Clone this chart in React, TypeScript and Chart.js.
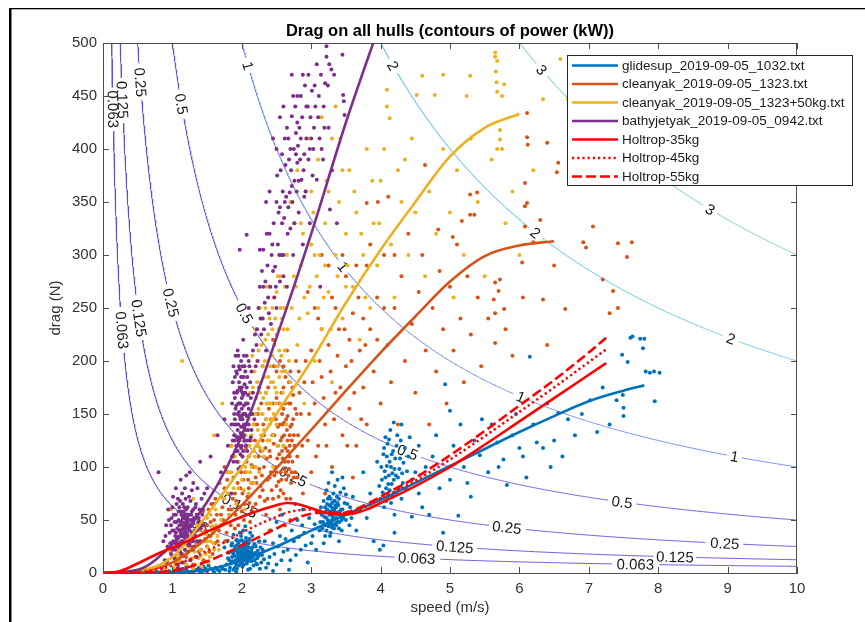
import React, { useEffect, useRef } from 'react';
import { Chart, registerables } from 'chart.js';

Chart.register(...registerables);

// ---------------- data ----------------
const POWER_LEVELS = [0.063, 0.125, 0.25, 0.5, 1, 2, 3];
const LEVEL_COLORS = ['#5a4ed8', '#5a4ed8', '#5a50da', '#5c58dc', '#6a84ec', '#66c2ec', '#84daae'];
const LABEL_SPEEDS = [
  [0.144, 0.275, 1.37, 4.52, 7.67],
  [0.28, 0.52, 1.97, 5.07, 8.24],
  [0.54, 0.98, 2.74, 5.82, 8.96],
  [1.13, 2.04, 4.39, 7.48],
  [2.09, 3.46, 6.02, 9.1],
  [4.18, 6.23, 9.05],
  [6.32, 8.75],
];

const X_TICKS_MAX = 10;
const Y_TICKS_MAX = 500;

const glideSpeed = [0, 0.5, 1, 1.5, 2, 2.5, 3, 3.5, 4, 4.5, 5, 5.5, 6, 6.5, 7, 7.5, 7.8];
const glideDrag = [0, 0, 1, 3, 12, 25, 40, 55, 69, 85, 101, 117, 133, 148, 162, 172, 177];

const cleanSpeed = [0, 0.5, 1, 1.5, 2, 2.5, 3, 3.5, 4, 4.5, 5, 5.5, 6, 6.5];
const cleanDrag = [0, 1, 10, 33, 64, 99, 135, 172, 208, 242, 275, 299, 309, 313];

const heavySpeed = [0, 0.5, 1, 1.5, 2, 2.5, 3, 3.5, 4, 4.5, 5, 5.5, 6];
const heavyDrag = [0, 2, 15, 55, 100, 150, 200, 255, 305, 350, 393, 420, 433];

const bathySpeed = [0, 0.5, 1, 1.5, 2, 2.5, 3, 3.5, 4];
const bathyDrag = [0, 3, 27, 67, 130, 222, 320, 425, 520];

const holt35Speed = [0, 0.25, 0.5, 0.75, 1, 1.25, 1.5, 1.75, 2, 2.25, 2.5, 2.65, 2.8, 3, 3.2, 3.4, 3.6, 3.8, 4, 4.5, 5, 5.5, 6, 6.5, 7, 7.25];
const holt35Drag = [0, 2, 9, 17, 24, 31, 39, 46, 53, 59, 64, 66, 65, 61, 57, 55, 56, 60, 66, 82, 100, 121, 143, 165, 187, 198];

const holt45Speed = [0, 0.5, 0.75, 1, 1.25, 1.5, 1.75, 2, 2.25, 2.5, 2.65, 2.8, 3, 3.2, 3.4, 3.6, 3.8, 4, 4.5, 5, 5.5, 6, 6.5, 7, 7.25];
const holt45Drag = [0, 1, 3, 7, 13, 21, 29, 38, 46, 53, 57, 59, 60, 58, 56, 58, 63, 70, 87, 107, 129, 152, 175, 199, 211];

const holt55Speed = [0, 0.5, 1, 1.25, 1.5, 1.75, 2, 2.25, 2.5, 2.65, 2.8, 3, 3.2, 3.4, 3.6, 3.8, 4, 4.5, 5, 5.5, 6, 6.5, 7, 7.25];
const holt55Drag = [0, 0.5, 2, 6, 11, 18, 26, 34, 42, 47, 52, 56, 57, 56, 59, 65, 72, 90, 111, 134, 158, 182, 208, 222];

const glidePoints = [
  [0.85,1],[0.95,2],[1.0,0.5],[1.05,3],[1.1,1],[1.15,4],[1.2,2],[1.25,0.5],[1.3,5],[1.35,3],[1.4,1],[1.45,6],[1.5,2],[1.55,4],[1.6,1],[1.3,1],[1.2,6],[1.42,8],[1.65,3],[1.7,6],
  [1.02,2],[1.12,3],[1.22,1],[1.32,3],[1.38,5],[1.48,4],[1.52,7],[1.58,3],[1.62,5],[1.68,2],[1.72,4],[1.76,3],[1.82,2],[1.88,3],[1.92,1],[0.92,0.5],[0.78,1],[0.7,0.5],[1.18,0.5],[1.44,2],
  [1.78,8],[1.8,14],[1.83,5],[1.85,20],[1.87,11],[1.9,16],[1.9,25],[1.92,8],[1.94,19],[1.95,13],[1.96,30],[1.97,22],[1.98,10],[1.99,17],[2.0,14],[2.0,20],[2.0,26],[2.01,6],[2.02,18],[2.03,12],[2.04,24],[2.05,16],[2.06,33],[2.07,9],[2.08,21],[2.1,14],[2.1,28],[2.12,18],[2.14,11],[2.15,24],[2.17,7],[2.2,19],[2.22,14],[2.25,30],[2.28,10],[2.3,22],[1.88,36],[2.02,40],[2.12,38],[1.75,24],
  [1.93,4],[1.97,15],[2.03,29],[2.09,3],[1.86,28],[2.18,27],[1.99,35],
  [1.81,19],[1.84,9],[1.86,15],[1.89,21],[1.91,12],[1.93,26],[1.95,17],[1.96,7],[1.98,23],[1.99,13],[2.0,9],[2.0,31],[2.01,16],[2.02,22],[2.03,8],[2.04,19],[2.05,27],[2.06,13],[2.07,17],[2.08,25],[2.09,11],[2.1,20],[2.11,32],[2.13,15],[2.14,23],[2.16,18],[2.18,12],[2.19,26],[2.21,9],[2.23,21],[2.24,16],[2.27,24],[2.29,17],[2.32,13],[1.92,31],[1.97,38],[2.05,44],[2.15,35],[1.79,30],[2.26,4],
  [1.82,12],[1.85,26],[1.88,18],[1.9,10],[1.92,22],[1.94,14],[1.96,24],[1.98,19],[2.0,11],[2.0,17],[2.01,23],[2.02,13],[2.03,20],[2.04,15],[2.05,22],[2.06,19],[2.07,12],[2.08,16],[2.1,24],[2.11,19],[2.12,13],[2.14,20],[2.16,15],[2.2,25],[2.25,18],[1.95,28],[2.08,30],[1.9,5],[2.12,4],[2.22,8],
  [2.35,5],[2.4,15],[2.45,28],[2.5,8],[2.55,35],[2.6,20],[2.62,45],[2.7,12],[2.75,30],[2.8,50],[2.85,22],[2.9,38],[2.95,10],[3.0,28],[3.05,46],[2.5,48],[2.68,3],[2.88,60],
  [2.33,30],[2.38,9],[2.42,40],[2.47,18],[2.52,25],[2.57,12],[2.63,32],[2.66,22],[2.72,40],[2.78,17],[2.82,34],[2.87,45],[2.92,26],[2.97,52],[3.02,35],[3.07,22],[3.08,58],[2.58,55],[2.77,65],[2.45,2],
  [3.12,40],[3.15,55],[3.17,48],[3.2,62],[3.2,35],[3.22,52],[3.24,70],[3.25,44],[3.27,58],[3.28,38],[3.3,66],[3.3,50],[3.32,75],[3.33,42],[3.35,56],[3.36,62],[3.38,48],[3.4,70],[3.42,54],[3.44,40],[3.45,60],[3.47,80],[3.5,50],[3.52,65],[3.55,45],[3.25,85],[3.38,88],[3.18,28],[3.4,30],[3.6,72],
  [3.21,57],[3.29,47],[3.34,68],[3.26,64],[3.31,53],[3.36,45],
  [3.13,48],[3.14,62],[3.16,42],[3.18,68],[3.19,53],[3.21,45],[3.23,60],[3.24,50],[3.26,72],[3.27,46],[3.28,63],[3.29,55],[3.3,43],[3.31,61],[3.32,51],[3.33,68],[3.34,58],[3.35,47],[3.37,72],[3.38,57],[3.39,64],[3.41,48],[3.42,76],[3.43,60],[3.46,52],[3.48,66],[3.5,74],[3.53,57],[3.56,62],[3.58,52],[3.22,78],[3.34,82],[3.27,35],[3.45,90],[3.3,95],
  [3.2,45],[3.23,65],[3.26,55],[3.28,70],[3.31,45],[3.33,60],[3.36,52],[3.38,66],[3.41,58],[3.44,50],[3.3,58],[3.25,48],[3.35,64],[3.4,42],[3.22,40],
  [3.65,40],[3.7,60],[3.75,95],[3.8,52],[3.85,75],[3.9,30],[3.95,105],
  [4.0,70],[4.02,88],[4.04,112],[4.05,62],[4.06,96],[4.08,80],[4.1,122],[4.1,72],[4.12,92],[4.13,105],[4.15,66],[4.16,84],[4.18,115],[4.2,98],[4.22,76],[4.24,130],[4.25,90],[4.28,108],[4.3,70],[4.32,85],[4.35,118],[4.14,135],[4.2,55],[4.04,26],[4.2,38],[3.99,22],[4.09,101],[4.17,94],
  [3.98,82],[4.01,100],[4.03,76],[4.05,118],[4.07,90],[4.08,68],[4.09,110],[4.11,84],[4.12,126],[4.13,78],[4.15,100],[4.16,112],[4.17,72],[4.19,88],[4.21,108],[4.22,92],[4.23,120],[4.26,80],[4.27,98],[4.29,125],[4.31,94],[4.33,104],[4.36,80],[4.38,96],[4.4,110],[4.42,128],[4.45,88],[4.19,142],[4.07,128],[4.3,140],
  [4.45,53],[4.5,95],[4.55,75],[4.7,55],[4.75,110],[4.9,38],[4.93,178],[5.0,153],[5.0,88],[5.12,54],[5.2,100],[5.3,72],[5.43,111],[5.46,145],[5.55,95],[5.68,123],[5.77,107],[5.82,83],[5.9,130],[6.05,110],[6.1,90],[6.15,204],[6.25,123],[6.34,118],[6.45,100],[6.56,151],[6.7,145],[6.8,130],[7.02,163],[7.12,133],
  [4.55,120],[4.6,62],[4.65,100],[4.8,130],[4.85,80],[5.05,120],[5.15,140],[5.25,85],[5.35,125],[5.6,140],[5.7,100],[5.95,150],[6.0,118],[6.2,140],[6.4,160],[6.5,125],[6.62,110],[6.9,150],[7.2,175],[7.3,140],
  [7.4,163],[7.48,206],[7.49,168],[7.5,156],[7.5,148],[7.56,199],[7.6,222],[7.63,223],[7.74,221],[7.8,221],[7.78,212],[7.82,190],[7.88,189],[7.94,190],[8.02,189],[7.95,162],
];

const cleanPoints = [
  [1.05,10],[1.1,22],[1.15,35],[1.2,15],[1.22,45],[1.25,28],[1.3,8],[1.32,38],[1.35,55],[1.38,20],[1.4,30],[1.42,48],[1.45,12],[1.48,40],[1.5,25],[1.52,60],[1.55,35],[1.58,18],[1.6,50],[1.62,70],
  [1.28,25],[1.34,15],[1.37,42],[1.41,22],[1.44,58],[1.47,32],[1.5,45],[1.53,20],[1.56,65],[1.59,38],[1.61,28],[1.64,55],[1.67,40],[1.7,72],[1.73,50],[1.76,30],[1.79,88],[1.81,60],[1.84,45],[1.87,70],[1.89,110],[1.91,55],[1.94,85],[1.97,62],[1.99,95],[2.01,75],[2.03,50],[2.06,118],[2.09,88],[2.11,66],
  [1.65,30],[1.68,85],[1.7,45],[1.72,62],[1.75,100],[1.78,38],[1.8,75],[1.82,55],[1.85,120],[1.88,90],[1.9,42],[1.92,68],[1.95,105],[1.98,80],[2.0,58],[2.02,130],[2.05,95],[2.08,72],[2.1,110],[2.12,48],
  [1.7,55],[1.75,80],[1.8,95],[1.85,60],[1.9,75],[1.95,45],[1.55,48],[1.45,30],[1.35,28],[1.62,42],
  [2.15,85],[2.18,140],[2.2,65],[2.22,120],[2.25,98],[2.28,160],[2.3,78],[2.32,130],[2.35,55],[2.36,108],[2.38,175],[2.4,90],[2.42,145],[2.45,70],[2.46,122],[2.48,100],[2.5,165],[2.5,82],[2.52,138],[2.54,112],[2.55,60],[2.56,95],[2.58,150],[2.6,120],[2.6,75],[2.62,105],[2.63,185],[2.64,88],[2.65,135],[2.66,115],[2.68,98],[2.7,160],[2.7,70],[2.72,125],[2.74,145],[2.75,90],[2.78,200],[2.8,110],[2.55,200],[2.45,220],[2.3,195],[2.62,45],[2.7,50],[2.4,40],
  [2.58,128],[2.61,142],[2.67,92],[2.53,86],[2.59,108],[2.69,130],[2.57,170],
  [2.14,102],[2.16,62],[2.19,125],[2.21,85],[2.23,150],[2.26,72],[2.27,115],[2.29,92],[2.31,140],[2.33,68],[2.34,118],[2.37,88],[2.39,155],[2.41,110],[2.43,78],[2.44,130],[2.47,92],[2.49,145],[2.51,108],[2.53,72],[2.54,160],[2.56,125],[2.57,88],[2.59,140],[2.61,98],[2.62,160],[2.63,118],[2.64,70],[2.66,148],[2.67,105],[2.68,180],[2.69,120],[2.71,85],[2.72,140],[2.73,105],[2.74,168],[2.76,120],[2.77,95],[2.79,150],[2.81,130],[2.5,190],[2.65,210],[2.6,175],[2.35,170],[2.46,195],
  [2.02,88],[2.04,65],[2.07,105],[2.1,80],[2.13,125],[2.15,58],[2.17,100],[2.2,90],[2.22,140],[2.24,110],[2.27,82],[2.3,125],[2.32,100],[2.35,145],[2.37,70],[2.4,115],[2.42,95],[2.45,160],[2.47,130],[2.5,95],[2.52,120],[2.55,140],[2.56,78],[2.58,115],[2.6,155],[2.61,130],[2.63,95],[2.64,145],[2.66,125],[2.68,160],[2.69,110],[2.7,138],[2.72,95],[2.73,175],[2.75,130],[2.77,155],[2.8,90],[2.82,190],[2.7,190],[2.6,195],
  [2.85,150],[2.88,75],[2.9,180],[2.95,125],[3.0,95],[3.0,210],[3.05,160],[3.1,120],[3.1,240],[3.15,185],[3.2,140],[3.25,215],[3.3,100],[3.3,260],[3.35,170],[3.4,230],[3.45,130],[3.5,195],[3.5,280],[3.55,155],[3.6,245],[3.65,120],[3.7,210],[3.75,175],[3.8,290],[3.8,140],[3.85,230],[3.9,190],[3.95,260],[4.0,160],[3.2,75],[3.6,90],[2.95,265],[3.15,300],
  [2.83,170],[2.87,120],[2.92,200],[2.97,150],[3.02,180],[3.07,110],[3.12,200],[3.18,165],[3.22,120],[3.28,190],[3.33,145],[3.38,205],[3.42,175],[3.48,230],[3.52,120],[3.58,200],[3.62,170],[3.68,260],[3.72,145],[3.78,215],
  [3.05,250],[3.15,230],[3.25,290],[3.35,250],[3.45,300],[3.55,220],[3.65,290],[3.75,240],[3.85,310],[3.95,220],[4.05,250],[4.2,300],
  [4.05,300],[4.1,215],[4.15,180],[4.2,250],[4.25,140],[4.3,280],[4.35,200],[4.4,320],[4.45,235],[4.5,170],[4.55,265],[4.6,300],[4.65,210],[4.7,140],[4.75,250],[4.8,190],[4.85,285],[4.9,230],[4.95,160],[5.0,270],[5.05,210],[5.1,310],[5.15,240],[5.2,180],[5.25,280],[5.29,338],[5.35,338],[5.3,225],[5.4,260],[5.45,195],
  [5.55,240],[5.63,258],[5.65,274],[5.65,245],[5.65,217],[5.7,266],[5.72,277],[5.78,249],[5.8,230],[5.9,205],[6.04,293],[6.05,260],[6.08,327],[6.08,346],[6.11,349],[6.2,312],[6.3,333],[6.34,258],[6.4,215],[6.5,290],[6.66,249],[6.92,312],[6.96,307],[7.06,327],[7.2,277],[7.3,245],[7.35,266],[7.42,250],[7.42,311],[7.55,298],[7.62,312],
  [6.08,368],[6.11,411],[6.12,404],[6.4,406],[6.54,378],[6.56,387],[6.11,434],
  [3.8,349],[3.96,350],[4.11,355],[4.64,385],[5.04,317],[4.83,324],[5.17,332],[5.29,357],[5.39,359],
];

const heavyPoints = [
  [0.9,3],[0.95,8],[1.0,15],[1.02,5],[1.05,22],[1.08,10],[1.1,30],[1.12,2],[1.15,18],[1.18,40],[1.2,8],[1.22,25],[1.25,12],[1.28,35],[1.3,4],[1.32,20],[1.35,45],[1.38,14],[1.4,28],[1.42,6],[1.45,38],[1.48,18],[1.5,52],[1.52,10],[1.55,30],[1.58,44],[1.6,22],[1.62,60],[1.65,35],[1.7,50],[0.98,60],[1.3,70],[1.14,200],
  [0.93,12],[0.97,20],[1.01,28],[1.04,8],[1.06,35],[1.09,16],[1.11,24],[1.13,42],[1.16,10],[1.19,30],[1.21,18],[1.23,48],[1.26,22],[1.29,14],[1.31,32],[1.33,8],[1.36,26],[1.39,40],[1.41,16],[1.44,30],[1.46,10],[1.49,36],[1.51,24],[1.54,15],[1.57,40],[1.59,28],[1.63,45],[1.67,22],
  [1.05,15],[1.1,12],[1.15,28],[1.2,20],[1.25,35],[1.35,30],[1.4,22],[1.45,45],[1.5,30],[1.55,55],
  [1.75,70],[1.8,95],[1.82,55],[1.85,120],[1.88,80],[1.9,140],[1.92,65],[1.95,105],[1.98,125],[2.0,88],[2.02,150],[2.04,60],[2.06,115],[2.08,135],[2.1,75],[1.72,160],[1.6,130],
  [1.95,80],[1.9,110],[1.85,95],[1.8,75],
  [2.12,170],[2.14,100],[2.15,205],[2.17,140],[2.18,85],[2.2,230],[2.21,120],[2.22,180],[2.24,155],[2.25,95],[2.26,250],[2.28,130],[2.3,195],[2.31,165],[2.32,110],[2.34,220],[2.35,145],[2.36,270],[2.38,185],[2.4,125],[2.4,240],[2.42,160],[2.44,205],[2.45,100],[2.46,260],[2.48,175],[2.5,225],[2.5,140],[2.52,195],[2.55,280],[2.56,160],[2.58,240],[2.6,120],[2.62,210],
  [2.01,110],[2.03,78],[2.05,130],[2.07,95],[2.09,160],[2.11,120],[2.13,85],[2.16,150],[2.18,190],[2.19,110],[2.21,165],[2.23,135],[2.24,210],[2.26,118],[2.27,180],[2.29,150],[2.3,240],[2.32,135],[2.33,200],[2.35,170],[2.37,125],[2.38,225],[2.39,160],[2.41,195],[2.43,145],[2.44,250],[2.45,180],[2.47,215],[2.49,160],[2.5,265],[2.51,120],[2.53,230],[2.54,185],[2.57,205],[2.59,170],[2.61,250],[2.63,190],[2.64,140],[2.66,230],[2.68,200],
  [2.05,100],[2.08,120],[2.1,145],[2.12,95],[2.14,130],[2.16,175],[2.18,115],[2.2,150],[2.22,200],[2.24,120],[2.26,170],[2.28,215],[2.3,150],[2.32,185],[2.34,250],[2.36,160],[2.38,200],[2.4,270],[2.42,180],[2.44,230],[2.46,150],[2.48,240],[2.5,195],[2.52,280],[2.54,210],[2.56,250],[2.58,190],[2.6,230],[2.62,270],[2.2,100],[2.3,115],[2.4,140],[2.45,130],[2.5,170],
  [2.65,300],[2.7,180],[2.72,250],[2.75,330],[2.8,215],[2.85,290],[2.9,160],[2.92,360],[2.95,245],[3.0,310],[3.05,200],[3.08,280],[3.1,390],[3.15,230],[3.2,330],[3.25,265],[3.3,410],[3.3,180],[3.35,300],[3.4,350],[3.45,240],[3.5,320],[3.55,380],[3.6,270],[3.65,340],[3.7,220],[3.75,300],[3.8,400],[3.85,250],[3.9,330],[3.95,290],[4.0,370],[4.09,440],[4.09,456],[4.13,429],[4.15,310],[4.2,260],[4.3,350],[4.35,390],[4.4,300],[4.52,451],[4.5,340],[4.6,469],[4.64,280],[4.78,451],[4.9,470],
  [2.78,270],[2.83,240],[2.88,320],[2.98,270],[3.03,340],[3.12,300],[3.18,260],[3.22,370],[3.28,230],[3.38,280],[3.42,410],[3.52,290],[3.62,360],[3.72,320],[3.78,260],[3.88,370],[3.98,330],[4.05,400],[4.25,380],[4.45,410],
  [2.7,350],[2.75,280],[2.8,380],[2.85,330],[2.9,260],[2.95,410],[3.0,360],[3.05,300],[3.1,250],[3.15,430],[3.2,290],[3.25,360],[3.35,440],[3.45,380],[3.5,270],
  [4.7,360],[4.8,320],[4.9,400],[5.0,340],[5.05,260],[5.1,380],[5.2,300],[5.24,450],[5.29,469],[5.3,410],[5.4,350],[5.5,280],[5.6,390],[5.65,491],[5.65,487],[5.66,473],[5.67,463],[5.68,483],[5.68,400],[5.68,454],[5.72,409],[5.72,418],[5.75,450],[5.75,400],[5.78,461],[5.8,330],[5.9,360],[6.0,300],[6.34,447],[6.59,485],[6.7,447],[6.2,380],
];

const bathyPoints = [
  [0.3,0],[0.5,1],[0.7,0],[0.9,1],[1.5,2],
  [0.85,5],[0.88,20],[0.9,35],[0.92,10],[0.95,50],[0.97,28],[1.0,15],[1.0,62],[1.02,40],[1.04,22],[1.05,55],[1.06,32],[1.08,8],[1.08,70],[1.1,45],[1.1,25],[1.12,38],[1.12,58],[1.13,18],[1.14,48],[1.15,30],[1.15,65],[1.16,42],[1.17,52],[1.18,22],[1.18,80],[1.2,36],[1.2,60],[1.21,45],[1.22,28],[1.23,50],[1.24,72],[1.25,40],[1.26,12],[1.27,55],[1.28,33],[1.3,47],[1.3,85],[1.32,25],[1.33,62],[1.35,40],[1.38,52],[1.4,30],[1.42,70],[1.45,45],[1.1,2],[1.2,4],[1.3,1],[1.4,3],[0.8,95],[1.25,95],
  [1.11,35],[1.14,41],[1.17,37],[1.19,47],[1.13,55],[1.16,27],[1.21,53],[1.09,50],[1.24,33],[1.07,42],
  [0.87,30],[0.89,12],[0.91,45],[0.93,25],[0.94,60],[0.96,38],[0.98,18],[0.99,52],[1.01,30],[1.01,72],[1.03,48],[1.03,14],[1.05,38],[1.06,65],[1.07,25],[1.09,58],[1.09,34],[1.11,20],[1.11,68],[1.12,48],[1.13,30],[1.14,75],[1.15,52],[1.16,36],[1.16,16],[1.17,62],[1.18,44],[1.19,28],[1.19,70],[1.2,50],[1.21,38],[1.22,62],[1.23,42],[1.23,20],[1.24,55],[1.25,30],[1.26,68],[1.27,44],[1.28,58],[1.29,22],[1.31,52],[1.32,40],[1.34,65],[1.36,30],[1.37,48],[1.39,60],[1.41,42],[1.43,55],[1.12,88],[1.2,92],[1.05,80],[1.28,78],[1.15,10],[1.08,5],[1.35,15],[1.0,40],
  [1.0,22],[1.02,55],[1.04,35],[1.06,48],[1.08,28],[1.1,62],[1.12,25],[1.14,35],[1.16,58],[1.18,33],[1.2,42],[1.22,48],[1.24,26],[1.26,45],[1.28,38],[1.3,60],[1.33,35],[1.35,55],[1.38,42],[1.18,55],[1.1,40],[1.15,45],[1.22,35],[1.27,50],[1.05,28],[0.98,45],[1.3,30],[1.44,60],[1.46,75],[1.36,80],
  [1.5,80],[1.55,110],[1.6,65],[1.65,130],[1.7,95],[1.75,145],[1.8,120],[1.85,75],[1.4,105],
  [1.86,110],[1.88,140],[1.89,170],[1.9,125],[1.91,155],[1.92,190],[1.93,105],[1.94,135],[1.95,160],[1.96,180],[1.97,120],[1.98,145],[1.99,200],[2.0,130],[2.0,165],[2.01,110],[2.02,150],[2.03,185],[2.04,125],[2.05,170],[2.06,140],[2.07,205],[2.08,115],[2.1,155],[2.12,180],[2.14,135],[2.16,210],[1.95,98],
  [1.97,148],[2.01,138],[1.99,172],[2.03,158],[1.93,128],
  [1.87,125],[1.89,150],[1.9,185],[1.91,115],[1.92,140],[1.93,170],[1.94,150],[1.95,125],[1.96,195],[1.97,160],[1.98,132],[1.99,118],[2.0,148],[2.0,185],[2.01,170],[2.02,128],[2.03,140],[2.04,195],[2.05,150],[2.06,120],[2.07,175],[2.08,160],[2.09,135],[2.11,195],[2.11,125],[2.13,165],[2.15,150],[1.94,210],[2.02,220],[1.98,100],
  [1.85,140],[1.86,160],[1.87,180],[1.88,105],[1.88,195],[1.89,130],[1.9,145],[1.9,165],[1.91,205],[1.92,120],[1.92,158],[1.93,188],[1.94,115],[1.94,172],[1.95,140],[1.95,205],[1.96,128],[1.96,152],[1.97,175],[1.97,192],[1.98,112],[1.98,160],[1.99,138],[1.99,185],[2.0,120],[2.0,155],[2.0,175],[2.01,195],[2.01,145],[2.02,115],[2.02,168],[2.03,130],[2.03,205],[2.04,150],[2.04,178],[2.05,135],[2.05,190],[2.06,160],[2.07,125],[2.07,148],[2.08,185],[2.09,168],[2.1,140],[2.1,200],[2.12,150],[2.13,128],[2.14,190],[2.16,170],[2.18,145],[2.19,225],
  [2.2,195],[2.22,230],[2.25,175],[2.26,270],[2.3,240],[2.31,305],[2.35,210],[2.38,260],[2.4,320],[2.42,235],[2.45,285],[2.48,289],[2.5,350],[2.5,250],[2.52,310],[2.55,275],[2.56,380],[2.58,330],[2.6,300],[2.62,410],[2.64,355],[2.65,270],[2.68,390],[2.69,359],[2.7,325],[2.72,431],[2.74,300],[2.76,370],[2.78,415],[2.8,387],[2.8,425],[2.81,403],[2.82,340],[2.85,450],[2.86,371],[2.88,310],[2.9,395],[2.92,360],[2.95,440],[2.98,330],[3.0,410],[3.02,375],[3.05,460],[3.08,371],[3.1,430],[3.13,270],[3.15,400],[3.17,390],[3.2,462],[3.22,497],[3.22,487],[3.25,420],[3.27,343],[3.29,475],[3.37,330],[3.45,489],[3.46,451],[3.47,445],[3.48,432],[3.3,380],[1.97,305],[2.07,319],[2.26,305],[2.31,270],[2.1,250],[2.72,470],
  [2.23,200],[2.28,225],[2.33,255],[2.37,290],[2.41,270],[2.44,310],[2.47,260],[2.53,340],[2.57,300],[2.59,360],[2.61,335],[2.63,385],[2.66,320],[2.67,410],[2.71,380],[2.73,350],[2.75,400],[2.77,440],[2.79,360],[2.83,420],[2.84,390],[2.87,430],[2.89,380],[2.91,460],[2.93,410],[2.96,390],[2.99,430],[3.03,400],[3.06,440],[3.12,410],[3.18,440],[3.24,460],[2.6,440],[2.5,400],
  [2.21,215],[2.24,250],[2.27,240],[2.29,285],[2.32,230],[2.34,275],[2.36,320],[2.39,245],[2.43,300],[2.46,330],[2.49,270],[2.51,375],[2.54,300],[2.55,345],[2.58,395],[2.6,280],[2.62,350],[2.65,420],[2.67,345],[2.7,400],[2.72,365],[2.74,450],[2.76,330],[2.78,395],[2.8,450],[2.82,370],[2.85,410],[2.88,470],[2.9,355],[2.93,440],[2.96,470],[2.98,400],[3.01,455],[3.04,420],[3.08,480],[3.11,450],[3.14,470],[3.19,420],[3.26,480],[3.33,470],[2.4,360],[2.45,410],[2.55,430],[2.35,350],
];

// ---------------- helpers ----------------
const FONT = "'Liberation Sans', Arial, Helvetica, sans-serif";
const BLUE = '#0072BD';
const ORANGE = '#D95319';
const YELLOW = '#EDB120';
const PURPLE = '#7E2F8E';
const RED = '#FF0000';

const zipXY = (xs: number[], ys: number[]) => xs.map((x, i) => ({ x, y: ys[i] }));
const pairs = (arr: number[][]) => arr.map(([x, y]) => ({ x, y }));

function contourPoints(P: number) {
  const vStart = (1000 * P) / 520;
  const vEnd = 10.2;
  const n = 700;
  const pts: { x: number; y: number }[] = [];
  for (let i = 0; i <= n; i++) {
    const v = vStart * Math.pow(vEnd / vStart, i / n);
    pts.push({ x: v, y: (1000 * P) / v });
  }
  return pts;
}

const labelWidthCache: Record<string, number> = {};
function labelWidth(chart: any, text: string) {
  if (labelWidthCache[text] === undefined) {
    const c = chart.ctx;
    c.save();
    c.font = `15px ${FONT}`;
    labelWidthCache[text] = c.measureText(text).width;
    c.restore();
  }
  return labelWidthCache[text];
}

export default function App() {
  const canvasRef = useRef<HTMLCanvasElement | null>(null);

  useEffect(() => {
    const canvas = canvasRef.current;
    if (!canvas) return;

    const contourSets = POWER_LEVELS.map((P, li) => ({
      type: 'line',
      label: `P=${P}`,
      levelIndex: li,
      data: contourPoints(P),
      borderColor: LEVEL_COLORS[li],
      borderWidth: 0.9,
      pointRadius: 0,
      pointHoverRadius: 0,
      tension: 0,
      order: 100,
      segment: {
        borderColor: (sctx: any) => {
          const chart: any = Chart.getChart(canvas);
          if (!chart || !chart.scales || !chart.scales.x) return undefined;
          const xs = chart.scales.x;
          const ys = chart.scales.y;
          const half = labelWidth(chart, String(P)) / 2 + 4;
          const mx = (sctx.p0.x + sctx.p1.x) / 2;
          const my = (sctx.p0.y + sctx.p1.y) / 2;
          for (const v of LABEL_SPEEDS[li]) {
            const cx = xs.getPixelForValue(v);
            const cy = ys.getPixelForValue((1000 * P) / v);
            if (Math.hypot(mx - cx, my - cy) < half) return 'rgba(0,0,0,0)';
          }
          return undefined;
        },
      },
    }));

    const scatterSet = (label: string, pts: number[][], color: string, order: number) => ({
      type: 'scatter',
      label,
      data: pairs(pts),
      backgroundColor: color,
      borderWidth: 0,
      pointRadius: 2,
      pointHoverRadius: 0,
      order,
    });

    const fitSet = (label: string, xs: number[], ys: number[], color: string, order: number, dash: number[] = []) => ({
      type: 'line',
      label,
      showInLegend: true,
      data: zipXY(xs, ys),
      borderColor: color,
      borderWidth: 2.6,
      borderDash: dash,
      borderCapStyle: 'butt',
      pointRadius: 0,
      pointHoverRadius: 0,
      cubicInterpolationMode: 'monotone',
      order,
    });

    const datasets: any[] = [
      ...contourSets,
      scatterSet('glidesup pts', glidePoints, BLUE, 60),
      scatterSet('cleanyak pts', cleanPoints, ORANGE, 59),
      scatterSet('cleanyak50 pts', heavyPoints, YELLOW, 58),
      scatterSet('bathy pts', bathyPoints, PURPLE, 57),
      fitSet('glidesup_2019-09-05_1032.txt', glideSpeed, glideDrag, BLUE, 20),
      fitSet('cleanyak_2019-09-05_1323.txt', cleanSpeed, cleanDrag, ORANGE, 19),
      fitSet('cleanyak_2019-09-05_1323+50kg.txt', heavySpeed, heavyDrag, YELLOW, 18),
      fitSet('bathyjetyak_2019-09-05_0942.txt', bathySpeed, bathyDrag, PURPLE, 17),
      fitSet('Holtrop-35kg', holt35Speed, holt35Drag, RED, 10),
      fitSet('Holtrop-45kg', holt45Speed, holt45Drag, RED, 9, [2.2, 3]),
      fitSet('Holtrop-55kg', holt55Speed, holt55Drag, RED, 8, [10, 4]),
    ];

    const decor = {
      id: 'decor',
      afterDatasetDraw(chart: any, args: any) {
        const ds = chart.data.datasets[args.index];
        if (ds.levelIndex === undefined) return;
        const li = ds.levelIndex;
        const P = POWER_LEVELS[li];
        const { ctx, scales, chartArea } = chart;
        const xs = scales.x;
        const ys = scales.y;
        ctx.save();
        ctx.beginPath();
        ctx.rect(chartArea.left, chartArea.top, chartArea.right - chartArea.left, chartArea.bottom - chartArea.top);
        ctx.clip();
        ctx.font = `15px ${FONT}`;
        ctx.fillStyle = '#1a1a1a';
        ctx.textAlign = 'center';
        ctx.textBaseline = 'middle';
        for (const v of LABEL_SPEEDS[li]) {
          const cx = xs.getPixelForValue(v);
          const cy = ys.getPixelForValue((1000 * P) / v);
          const x1 = xs.getPixelForValue(v * 0.99);
          const y1 = ys.getPixelForValue((1000 * P) / (v * 0.99));
          const x2 = xs.getPixelForValue(v * 1.01);
          const y2 = ys.getPixelForValue((1000 * P) / (v * 1.01));
          const ang = Math.atan2(y2 - y1, x2 - x1);
          ctx.save();
          ctx.translate(cx, cy);
          ctx.rotate(ang);
          ctx.fillText(String(P), 0, 1);
          ctx.restore();
        }
        ctx.restore();
      },
      afterDraw(chart: any) {
        const { ctx, chartArea, scales } = chart;
        const { left, right, top, bottom } = chartArea;
        const xs = scales.x;
        const ys = scales.y;
        ctx.save();
        // axes box: top and right lines
        ctx.strokeStyle = '#4d4d4d';
        ctx.lineWidth = 1;
        ctx.beginPath();
        ctx.moveTo(left, top + 0.5);
        ctx.lineTo(right, top + 0.5);
        ctx.moveTo(right - 0.5, top);
        ctx.lineTo(right - 0.5, bottom);
        ctx.stroke();
        // inward ticks
        const tl = 6;
        ctx.beginPath();
        xs.ticks.forEach((t: any) => {
          const px = Math.round(xs.getPixelForValue(t.value)) + 0.5;
          ctx.moveTo(px, bottom);
          ctx.lineTo(px, bottom - tl);
          ctx.moveTo(px, top);
          ctx.lineTo(px, top + tl);
        });
        ys.ticks.forEach((t: any) => {
          const py = Math.round(ys.getPixelForValue(t.value)) + 0.5;
          ctx.moveTo(left, py);
          ctx.lineTo(left + tl, py);
          ctx.moveTo(right, py);
          ctx.lineTo(right - tl, py);
        });
        ctx.stroke();

        // axis titles
        ctx.fillStyle = '#333333';
        ctx.font = `15px ${FONT}`;
        ctx.textAlign = 'center';
        ctx.textBaseline = 'middle';
        ctx.fillText('speed (m/s)', (left + right) / 2, 608);
        ctx.save();
        ctx.translate(56, (top + bottom) / 2);
        ctx.rotate(-Math.PI / 2);
        ctx.fillText('drag (N)', 0, 0);
        ctx.restore();

        // title
        ctx.fillStyle = '#000000';
        ctx.font = `bold 16.5px ${FONT}`;
        ctx.textBaseline = 'alphabetic';
        ctx.fillText('Drag on all hulls (contours of power (kW))', (left + right) / 2, 36);

        // legend
        const items = chart.data.datasets.filter((d: any) => d.showInLegend);
        const bx = 567, by = 55, bw = 285, bh = 130;
        ctx.fillStyle = '#ffffff';
        ctx.fillRect(bx, by, bw, bh);
        ctx.strokeStyle = '#262626';
        ctx.lineWidth = 1;
        ctx.strokeRect(bx + 0.5, by + 0.5, bw, bh);
        ctx.font = `13.5px ${FONT}`;
        ctx.textAlign = 'left';
        ctx.textBaseline = 'middle';
        items.forEach((d: any, i: number) => {
          const y = by + 10.5 + i * 18.5;
          ctx.save();
          ctx.strokeStyle = d.borderColor;
          ctx.lineWidth = d.borderWidth;
          ctx.setLineDash(d.borderDash || []);
          ctx.beginPath();
          ctx.moveTo(bx + 5, y);
          ctx.lineTo(bx + 51, y);
          ctx.stroke();
          ctx.restore();
          ctx.fillStyle = '#1a1a1a';
          ctx.fillText(d.label, bx + 55, y + 0.5);
        });

        // outer frame
        ctx.fillStyle = '#000000';
        ctx.fillRect(9, 8, 2.5, 622 - 8);
        ctx.fillRect(9, 8, 865 - 9, 1.3);
        ctx.restore();
      },
    };

    const chart = new Chart(canvas, {
      type: 'line',
      data: { datasets },
      options: {
        animation: false,
        responsive: false,
        devicePixelRatio: 1,
        parsing: false as any,
        normalized: true,
        layout: { padding: { top: 43, right: 68, left: 0, bottom: 0 } },
        plugins: {
          legend: { display: false },
          title: { display: false },
          tooltip: { enabled: false },
        },
        events: [],
        scales: {
          x: {
            type: 'linear',
            min: 0,
            max: X_TICKS_MAX,
            ticks: { stepSize: 1, font: { family: FONT, size: 15 }, color: '#333333', padding: 7, maxRotation: 0 },
            grid: { display: false, drawTicks: false },
            border: { display: true, color: '#4d4d4d', width: 1 },
            afterFit: (s: any) => { s.height = 49; },
          },
          y: {
            type: 'linear',
            min: 0,
            max: Y_TICKS_MAX,
            ticks: { stepSize: 50, font: { family: FONT, size: 15 }, color: '#333333', padding: 6 },
            grid: { display: false, drawTicks: false },
            border: { display: true, color: '#4d4d4d', width: 1 },
            afterFit: (s: any) => { s.width = 103; },
          },
        },
      } as any,
      plugins: [decor],
    } as any);

    return () => chart.destroy();
  }, []);

  return (
    <div style={{ position: 'absolute', left: 0, top: 0, width: 865, height: 622, background: '#ffffff' }}>
      <canvas ref={canvasRef} width={865} height={622} style={{ display: 'block', width: 865, height: 622 }} />
    </div>
  );
}
